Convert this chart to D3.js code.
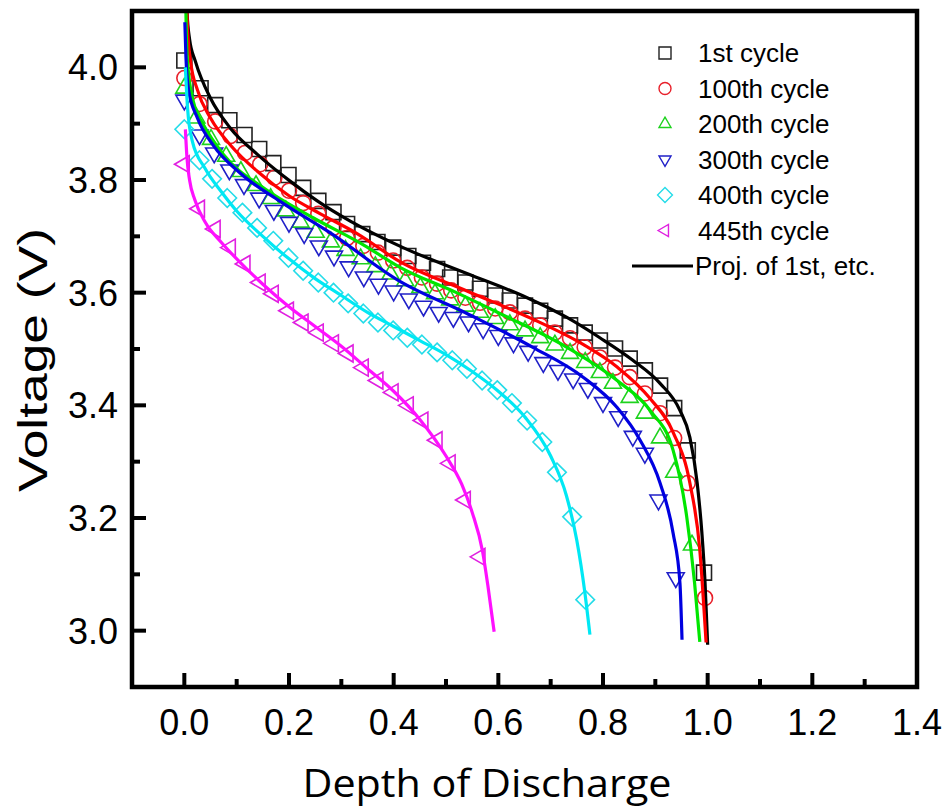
<!DOCTYPE html>
<html>
<head>
<meta charset="utf-8">
<script src="https://cdn.jsdelivr.net/npm/d3@7"></script>
<style>
  body { margin: 0; background: #fff; }
  text { font-family: "Liberation Sans", Arial, sans-serif; }
</style>
</head>
<body>
<svg id="chart" width="945" height="809"></svg>
<script>
// series labels and colours
const cycles = ["1st cycle", "100th cycle", "200th cycle", "300th cycle", "400th cycle", "445th cycle"];
const xTicks = [0.0, 0.2, 0.4, 0.6, 0.8, 1.0, 1.2, 1.4];
const yTicks = [3.0, 3.2, 3.4, 3.6, 3.8, 4.0];
const xMinor = [0.1, 0.3, 0.5, 0.7, 0.9, 1.1, 1.3];
const yMinor = [3.1, 3.3, 3.5, 3.7, 3.9];

// measured points [depth of discharge, voltage]
const mk1st = [[0,4.012],[0.031,3.963],[0.059,3.933],[0.086,3.906],[0.115,3.880],[0.143,3.855],[0.170,3.830],[0.199,3.809],[0.227,3.786],[0.256,3.763],[0.285,3.743],[0.311,3.722],[0.340,3.704],[0.369,3.690],[0.399,3.680],[0.428,3.665],[0.456,3.653],[0.483,3.642],[0.508,3.627],[0.537,3.618],[0.565,3.607],[0.594,3.595],[0.622,3.586],[0.651,3.577],[0.680,3.568],[0.708,3.554],[0.737,3.542],[0.765,3.529],[0.794,3.515],[0.823,3.501],[0.851,3.483],[0.880,3.462],[0.909,3.435],[0.936,3.395],[0.962,3.320],[0.993,3.103]];
const mk100 = [[0,3.981],[0.029,3.935],[0.059,3.904],[0.088,3.878],[0.116,3.848],[0.145,3.828],[0.172,3.804],[0.200,3.781],[0.227,3.759],[0.256,3.740],[0.285,3.715],[0.311,3.697],[0.342,3.683],[0.370,3.671],[0.399,3.657],[0.426,3.644],[0.454,3.627],[0.483,3.616],[0.510,3.604],[0.537,3.591],[0.565,3.582],[0.594,3.572],[0.622,3.565],[0.651,3.554],[0.680,3.542],[0.708,3.529],[0.737,3.519],[0.765,3.503],[0.794,3.485],[0.823,3.467],[0.851,3.450],[0.880,3.421],[0.909,3.386],[0.936,3.342],[0.962,3.262],[0.995,3.058]];
const mk200 = [[0,3.963],[0.023,3.910],[0.051,3.872],[0.080,3.842],[0.108,3.815],[0.137,3.790],[0.165,3.767],[0.194,3.745],[0.222,3.725],[0.251,3.707],[0.280,3.690],[0.308,3.675],[0.337,3.660],[0.365,3.646],[0.394,3.633],[0.422,3.621],[0.451,3.609],[0.479,3.598],[0.508,3.587],[0.537,3.576],[0.565,3.565],[0.594,3.554],[0.622,3.543],[0.651,3.532],[0.680,3.520],[0.708,3.507],[0.737,3.492],[0.766,3.476],[0.794,3.458],[0.819,3.439],[0.851,3.414],[0.880,3.386],[0.909,3.342],[0.936,3.281],[0.970,3.152]];
const mk300 = [[0,3.942],[0.029,3.880],[0.057,3.848],[0.086,3.818],[0.114,3.792],[0.143,3.768],[0.171,3.746],[0.200,3.725],[0.229,3.705],[0.257,3.683],[0.286,3.665],[0.314,3.646],[0.343,3.628],[0.371,3.615],[0.400,3.603],[0.429,3.589],[0.457,3.576],[0.486,3.565],[0.514,3.556],[0.543,3.548],[0.571,3.536],[0.600,3.524],[0.629,3.511],[0.657,3.496],[0.686,3.476],[0.714,3.462],[0.743,3.447],[0.771,3.430],[0.800,3.405],[0.829,3.380],[0.857,3.345],[0.880,3.315],[0.906,3.232],[0.939,3.094]];
const mk400 = [[0,3.890],[0.029,3.835],[0.053,3.802],[0.082,3.768],[0.111,3.742],[0.139,3.715],[0.170,3.692],[0.199,3.662],[0.227,3.639],[0.256,3.618],[0.285,3.600],[0.313,3.581],[0.342,3.563],[0.370,3.547],[0.399,3.533],[0.426,3.520],[0.454,3.508],[0.483,3.494],[0.512,3.480],[0.540,3.465],[0.569,3.444],[0.598,3.427],[0.626,3.404],[0.655,3.373],[0.684,3.335],[0.712,3.281],[0.741,3.202],[0.766,3.055]];
const mk445 = [[0,3.828],[0.029,3.749],[0.059,3.713],[0.088,3.680],[0.116,3.651],[0.145,3.618],[0.170,3.598],[0.199,3.568],[0.227,3.547],[0.256,3.529],[0.285,3.510],[0.313,3.492],[0.342,3.467],[0.370,3.444],[0.399,3.423],[0.428,3.400],[0.456,3.373],[0.483,3.338],[0.508,3.297],[0.537,3.232],[0.565,3.131]];

// projected curves
const fit1st = [[0.003,4.15],[0.005,4.10],[0.01,4.05],[0.021,4.011],[0.05,3.945],[0.088,3.892],[0.139,3.846],[0.202,3.798],[0.254,3.763],[0.317,3.727],[0.418,3.680],[0.54,3.634],[0.655,3.591],[0.731,3.556],[0.794,3.520],[0.857,3.480],[0.909,3.439],[0.947,3.391],[0.966,3.343],[0.98,3.262],[0.989,3.173],[0.995,3.085],[1.0,2.975]];
const fit100 = [[0.003,4.15],[0.006,4.07],[0.012,4.01],[0.025,3.96],[0.05,3.91],[0.09,3.86],[0.14,3.815],[0.2,3.772],[0.26,3.74],[0.33,3.705],[0.412,3.655],[0.54,3.603],[0.666,3.553],[0.762,3.508],[0.827,3.468],[0.89,3.412],[0.934,3.352],[0.966,3.262],[0.985,3.143],[0.997,2.979]];
const fit200 = [[0.002,4.15],[0.004,4.05],[0.008,3.99],[0.02,3.93],[0.036,3.899],[0.075,3.845],[0.151,3.786],[0.246,3.733],[0.342,3.685],[0.412,3.645],[0.52,3.60],[0.603,3.563],[0.731,3.503],[0.827,3.444],[0.89,3.391],[0.934,3.320],[0.96,3.202],[0.975,3.085],[0.985,2.98]];
const fit300 = [[0.001,4.08],[0.003,4.02],[0.008,3.96],[0.025,3.91],[0.055,3.862],[0.107,3.812],[0.183,3.762],[0.279,3.706],[0.412,3.62],[0.54,3.563],[0.666,3.503],[0.762,3.450],[0.827,3.396],[0.871,3.338],[0.909,3.262],[0.934,3.173],[0.947,3.085],[0.951,2.984]];
const fit400 = [[0.002,4.0],[0.006,3.93],[0.015,3.87],[0.04,3.82],[0.07,3.78],[0.1,3.745],[0.15,3.70],[0.2,3.66],[0.25,3.625],[0.3,3.595],[0.35,3.565],[0.4,3.54],[0.45,3.515],[0.5,3.49],[0.55,3.46],[0.6,3.425],[0.65,3.38],[0.7,3.31],[0.73,3.24],[0.75,3.16],[0.765,3.07],[0.775,2.993]];
const fit445 = [[0.002,3.89],[0.005,3.84],[0.01,3.80],[0.02,3.765],[0.04,3.725],[0.07,3.69],[0.1,3.66],[0.15,3.615],[0.2,3.575],[0.25,3.54],[0.3,3.505],[0.35,3.465],[0.4,3.425],[0.45,3.375],[0.5,3.31],[0.53,3.26],[0.55,3.21],[0.57,3.14],[0.58,3.08],[0.592,2.998]];

const markerColors = ["#222222", "#e8202a", "#1ed21e", "#2020c8", "#25dce8", "#e020e0"];
const lineColors = ["#000000", "#ff0000", "#00e600", "#0000e0", "#00e8f4", "#ff10ff"];
const shapes = ["square", "circle", "up", "down", "diamond", "left"];
const markerSets = [mk1st, mk100, mk200, mk300, mk400, mk445];
const fitSets = [fit1st, fit100, fit200, fit300, fit400, fit445];

let svg = d3.select("#chart");

let x = d3.scaleLinear().domain([-0.1, 1.4]).range([132, 917]);
let y = d3.scaleLinear().domain([2.9, 4.1]).range([687, 11]);

// marker shapes, s = nominal size
function shapePath(kind, s) {
  let h = s / 2;
  if (kind == "square") return `M${-h},${-h}H${h}V${h}H${-h}Z`;
  if (kind == "circle") return `M${h},0A${h},${h} 0 1,1 ${-h},0A${h},${h} 0 1,1 ${h},0Z`;
  let a = s * 0.577, b = s * 0.289;
  if (kind == "up") return `M0,${-a}L${h},${b}L${-h},${b}Z`;
  if (kind == "down") return `M0,${a}L${h},${-b}L${-h},${-b}Z`;
  if (kind == "left") return `M${-a},0L${b},${-h}L${b},${h}Z`;
  let d = s * 0.62;
  return `M0,${-d}L${d},0L0,${d}L${-d},0Z`;
}
const markerSize = { square: 15, circle: 15, up: 17, down: 17, diamond: 15, left: 17 };

svg.append("clipPath").attr("id", "plotclip")
  .append("rect").attr("x", 132).attr("y", 11).attr("width", 785).attr("height", 676);

let plot = svg.append("g").attr("clip-path", "url(#plotclip)");

// markers
markerSets.forEach((set, i) => {
  plot.append("g").selectAll("path")
    .data(set)
    .enter()
    .append("path")
    .attr("d", shapePath(shapes[i], markerSize[shapes[i]]))
    .attr("transform", d => `translate(${x(d[0])},${y(d[1])})`)
    .attr("fill", "none")
    .attr("stroke", markerColors[i])
    .attr("stroke-width", 1.6);
});

// fitted lines
let line = d3.line().x(d => x(d[0])).y(d => y(d[1])).curve(d3.curveMonotoneX);
fitSets.forEach((set, i) => {
  plot.append("path")
    .datum(set)
    .attr("d", line)
    .attr("fill", "none")
    .attr("stroke", lineColors[i])
    .attr("stroke-width", 3.2);
});

// frame
svg.append("rect")
  .attr("x", 132).attr("y", 11).attr("width", 785).attr("height", 676)
  .attr("fill", "none").attr("stroke", "#000").attr("stroke-width", 4.5);

// axes (ticks inward)
let xAxis = svg.append("g").attr("transform", "translate(0,687)");
xAxis.selectAll(".major").data(xTicks).enter().append("line")
  .attr("x1", d => x(d)).attr("x2", d => x(d)).attr("y1", 0).attr("y2", -14)
  .attr("stroke", "#000").attr("stroke-width", 4);
xAxis.selectAll(".minor").data(xMinor).enter().append("line")
  .attr("x1", d => x(d)).attr("x2", d => x(d)).attr("y1", 0).attr("y2", -8)
  .attr("stroke", "#000").attr("stroke-width", 4);
xAxis.selectAll("text").data(xTicks).enter().append("text")
  .attr("x", d => x(d)).attr("y", 48)
  .attr("text-anchor", "middle").attr("font-size", 36)
  .text(d => d.toFixed(1));

let yAxis = svg.append("g").attr("transform", "translate(132,0)");
yAxis.selectAll(".major").data(yTicks).enter().append("line")
  .attr("y1", d => y(d)).attr("y2", d => y(d)).attr("x1", 0).attr("x2", 14)
  .attr("stroke", "#000").attr("stroke-width", 4);
yAxis.selectAll(".minor").data(yMinor).enter().append("line")
  .attr("y1", d => y(d)).attr("y2", d => y(d)).attr("x1", 0).attr("x2", 8)
  .attr("stroke", "#000").attr("stroke-width", 4);
yAxis.selectAll("text").data(yTicks).enter().append("text")
  .attr("x", -14).attr("y", d => y(d))
  .attr("dy", "0.36em")
  .attr("text-anchor", "end").attr("font-size", 36)
  .text(d => d.toFixed(1));

// axis titles
svg.append("text")
  .attr("x", 487).attr("y", 797)
  .attr("text-anchor", "middle")
  .attr("font-size", 38)
  .style("font-family", "'Open Sans', sans-serif")
  .attr("textLength", 369)
  .attr("lengthAdjust", "spacingAndGlyphs")
  .text("Depth of Discharge");

svg.append("text")
  .attr("transform", "translate(47,360) rotate(-90)")
  .attr("text-anchor", "middle")
  .attr("font-size", 40)
  .attr("textLength", 264)
  .attr("lengthAdjust", "spacingAndGlyphs")
  .text("Voltage (V)");

// legend
let legend = svg.append("g");
cycles.forEach((c, i) => {
  let ly = 53 + i * 35.5;
  legend.append("path")
    .attr("d", shapePath(shapes[i], 12))
    .attr("transform", `translate(665,${ly})`)
    .attr("fill", "none")
    .attr("stroke", markerColors[i])
    .attr("stroke-width", 1.4);
  legend.append("text")
    .attr("x", 698).attr("y", ly).attr("dy", "0.36em")
    .attr("font-size", 26)
    .text(c);
});
let lastY = 53 + 6 * 35.5;
legend.append("line")
  .attr("x1", 632).attr("x2", 693).attr("y1", lastY).attr("y2", lastY)
  .attr("stroke", "#000").attr("stroke-width", 3);
legend.append("text")
  .attr("x", 695).attr("y", lastY).attr("dy", "0.36em")
  .attr("font-size", 26)
  .text("Proj. of 1st, etc.");
</script>
</body>
</html>
